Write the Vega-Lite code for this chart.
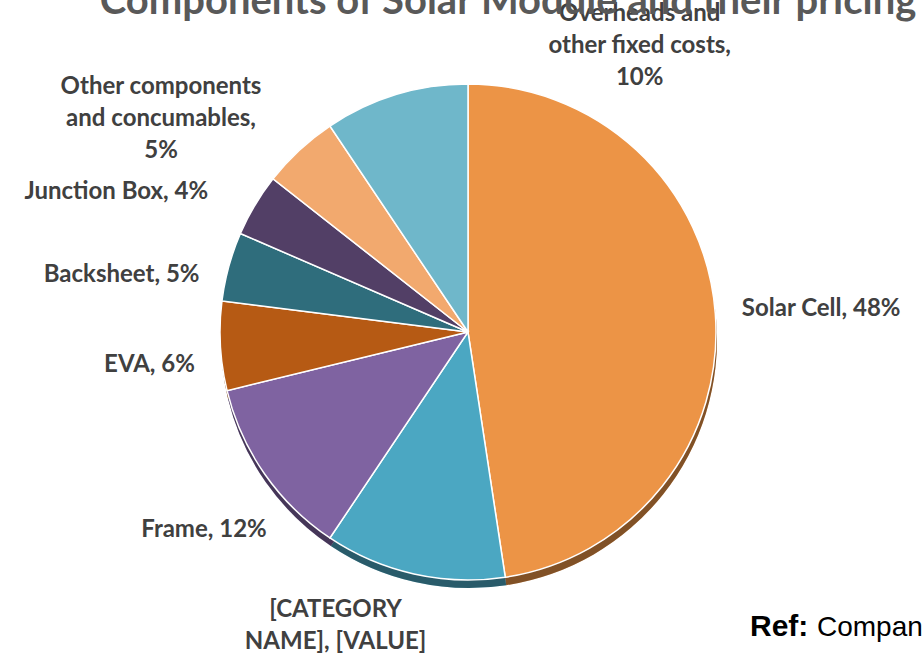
{
  "$schema": "https://vega.github.io/schema/vega-lite/v6.json",
  "width": 908,
  "height": 656,
  "autosize": "none",
  "padding": {"left": 14, "top": 4, "right": 0, "bottom": 0},
  "background": "white",
  "title": {
    "text": "Components of Solar Module and their pricing",
    "font": "Lato",
    "fontSize": 40,
    "fontWeight": "bold",
    "color": "#595959",
    "anchor": "middle",
    "frame": "group",
    "baseline": "alphabetic",
    "offset": -15,
    "dx": 40,
    "dy": 37
  },
  "data": {
    "values": [
      {"idx": 1, "cat": "Solar Cell", "v": 47.6, "label": "Solar Cell, 48%"},
      {"idx": 2, "cat": "[CATEGORY NAME]", "v": 11.8, "label": "[CATEGORY\nNAME], [VALUE]"},
      {"idx": 3, "cat": "Frame", "v": 11.8, "label": "Frame, 12%"},
      {"idx": 4, "cat": "EVA", "v": 5.8, "label": "EVA, 6%"},
      {"idx": 5, "cat": "Backsheet", "v": 4.5, "label": "Backsheet, 5%"},
      {"idx": 6, "cat": "Junction Box", "v": 4.1, "label": "Junction Box, 4%"},
      {"idx": 7, "cat": "Other components and concumables", "v": 5.0, "label": "Other components\nand concumables,\n5%"},
      {"idx": 8, "cat": "Overheads and other fixed costs", "v": 9.4, "label": "Overheads and\nother fixed costs,\n10%"}
    ]
  },
  "transform": [
    {"stack": "v", "groupby": [], "sort": [{"field": "idx", "order": "ascending"}], "as": ["s0", "s1"]},
    {"calculate": "(datum.s0 + datum.s1) / 2", "as": "mid"}
  ],
  "layer": [
    {
      "mark": {"type": "arc", "radius": 248, "xOffset": 1, "yOffset": 8},
      "encoding": {
        "theta": {"field": "s0", "type": "quantitative", "scale": {"domain": [0, 100]}},
        "theta2": {"field": "s1"},
        "color": {"field": "cat", "type": "nominal", "legend": null,
          "scale": {
            "domain": ["Solar Cell", "[CATEGORY NAME]", "Frame", "EVA", "Backsheet", "Junction Box", "Other components and concumables", "Overheads and other fixed costs"],
            "range": ["#EC9446", "#4BA7C2", "#7F63A1", "#B65A14", "#2F6D7C", "#523F66", "#F2A96E", "#6FB7CA"]
          }
        }
      }
    },
    {
      "mark": {"type": "arc", "radius": 248, "xOffset": 1, "yOffset": 8, "color": "#000000", "opacity": 0.45},
      "encoding": {
        "theta": {"field": "s0", "type": "quantitative", "scale": {"domain": [0, 100]}},
        "theta2": {"field": "s1"}
      }
    },
    {
      "mark": {"type": "arc", "radius": 248, "stroke": "#ffffff", "strokeWidth": 1.5},
      "encoding": {
        "theta": {"field": "s0", "type": "quantitative", "scale": {"domain": [0, 100]}},
        "theta2": {"field": "s1"},
        "color": {"field": "cat", "type": "nominal", "legend": null}
      }
    },
    {
      "transform": [{"filter": "datum.idx == 1"}],
      "mark": {"type": "text", "radius": 300, "dx": 54, "dy": 0},
      "encoding": {"theta": {"field": "mid", "type": "quantitative", "scale": {"domain": [0, 100]}}, "text": {"field": "label"}}
    },
    {
      "transform": [{"filter": "datum.idx == 2"}],
      "mark": {"type": "text", "radius": 300, "dx": -67, "dy": -15},
      "encoding": {"theta": {"field": "mid", "type": "quantitative", "scale": {"domain": [0, 100]}}, "text": {"field": "label"}}
    },
    {
      "transform": [{"filter": "datum.idx == 3"}],
      "mark": {"type": "text", "radius": 300, "dx": -18, "dy": 26},
      "encoding": {"theta": {"field": "mid", "type": "quantitative", "scale": {"domain": [0, 100]}}, "text": {"field": "label"}}
    },
    {
      "transform": [{"filter": "datum.idx == 4"}],
      "mark": {"type": "text", "radius": 300, "dx": -19, "dy": 16},
      "encoding": {"theta": {"field": "mid", "type": "quantitative", "scale": {"domain": [0, 100]}}, "text": {"field": "label"}}
    },
    {
      "transform": [{"filter": "datum.idx == 5"}],
      "mark": {"type": "text", "radius": 300, "dx": -57, "dy": 22},
      "encoding": {"theta": {"field": "mid", "type": "quantitative", "scale": {"domain": [0, 100]}}, "text": {"field": "label"}}
    },
    {
      "transform": [{"filter": "datum.idx == 6"}],
      "mark": {"type": "text", "radius": 300, "dx": -94, "dy": 14},
      "encoding": {"theta": {"field": "mid", "type": "quantitative", "scale": {"domain": [0, 100]}}, "text": {"field": "label"}}
    },
    {
      "transform": [{"filter": "datum.idx == 7"}],
      "mark": {"type": "text", "radius": 300, "dx": -103, "dy": -25},
      "encoding": {"theta": {"field": "mid", "type": "quantitative", "scale": {"domain": [0, 100]}}, "text": {"field": "label"}}
    },
    {
      "transform": [{"filter": "datum.idx == 8"}],
      "mark": {"type": "text", "radius": 300, "dx": 259, "dy": -31},
      "encoding": {"theta": {"field": "mid", "type": "quantitative", "scale": {"domain": [0, 100]}}, "text": {"field": "label"}}
    },
    {
      "data": {"values": [{"t": "Ref:"}]},
      "mark": {"type": "text", "align": "left", "baseline": "alphabetic", "font": "Liberation Sans", "fontSize": 30, "fontWeight": "bold", "color": "#000000", "dx": -172, "dy": -24},
      "encoding": {"x": {"value": "width"}, "y": {"value": "height"}, "text": {"field": "t"}}
    },
    {
      "data": {"values": [{"t": "Company"}]},
      "mark": {"type": "text", "align": "left", "baseline": "alphabetic", "font": "Liberation Sans", "fontSize": 28, "fontWeight": "normal", "color": "#000000", "dx": -105, "dy": -24},
      "encoding": {"x": {"value": "width"}, "y": {"value": "height"}, "text": {"field": "t"}}
    }
  ],
  "config": {
    "view": {"stroke": null},
    "text": {"font": "Lato", "fontSize": 24, "fontWeight": "bold", "color": "#404040", "align": "center", "baseline": "middle", "lineBreak": "\n", "lineHeight": 32}
  }
}
